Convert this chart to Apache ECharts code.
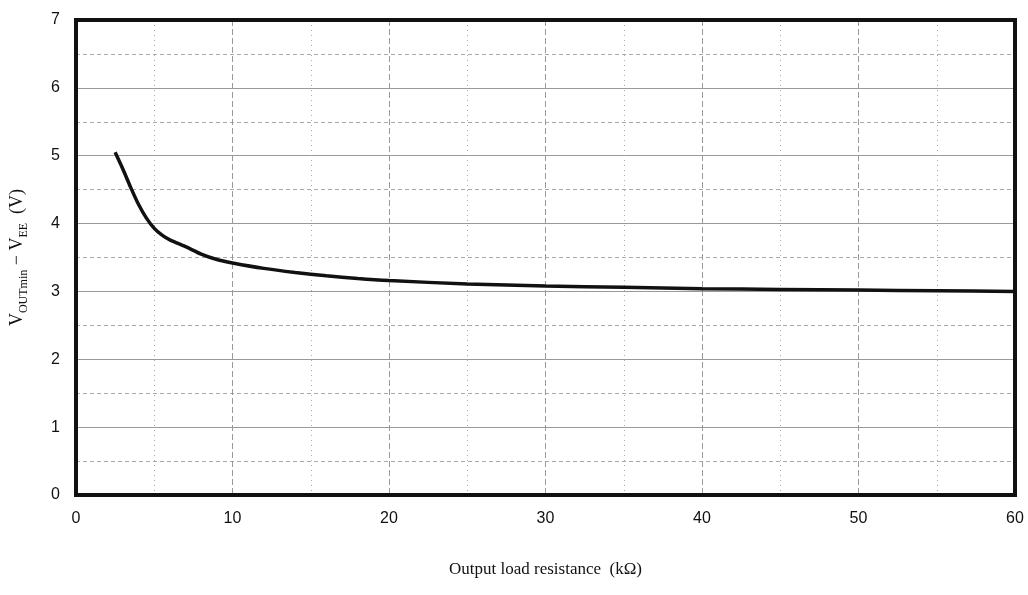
<!DOCTYPE html>
<html><head><meta charset="utf-8">
<script src="https://cdn.jsdelivr.net/npm/echarts@6/dist/echarts.min.js"></script>
<style>html,body{margin:0;padding:0;background:#fff}#c{width:1028px;height:595px}</style>
</head><body><div id="c"></div>
<script>
const resistance = [2.5,3,3.5,4,4.5,5,5.5,6,7,8,9,10,12,14,16,18,20,25,30,35,40,45,50,55,60];
const voltage = [5.05,4.80,4.53,4.28,4.08,3.93,3.83,3.76,3.66,3.55,3.47,3.42,3.34,3.28,3.23,3.19,3.16,3.11,3.08,3.06,3.04,3.03,3.02,3.01,3.00];
const xTicks = [0,10,20,30,40,50,60];
const yTicks = [0,1,2,3,4,5,6,7];

const chart = echarts.init(document.getElementById('c'));
chart.setOption({
  animation:false,
  grid:{left:75,right:13,top:20,bottom:100,show:true,borderColor:'#111',borderWidth:4,z:5},
  xAxis:{type:'value',min:0,max:60,interval:10,
    axisLine:{show:true,lineStyle:{color:'#111',width:4}},
    axisTick:{show:false},
    axisLabel:{margin:16,fontFamily:'Liberation Sans',fontSize:16,color:'#111',formatter:v=>xTicks.includes(v)?String(v):''},
    splitLine:{show:true,showMinLine:false,showMaxLine:false,lineStyle:{color:'#999',width:1,type:[6,3]}},
    minorTick:{show:false,splitNumber:2},
    minorSplitLine:{show:true,lineStyle:{color:'#aaa',width:1,type:[1,4]}},
    name:'Output load resistance  (kΩ)',nameLocation:'middle',nameGap:66,
    nameTextStyle:{fontFamily:'Liberation Serif',fontSize:17,color:'#111'}
  },
  yAxis:{type:'value',min:0,max:7,interval:1,
    axisLine:{show:true,lineStyle:{color:'#111',width:4}},
    axisTick:{show:false},
    axisLabel:{margin:16,fontFamily:'Liberation Sans',fontSize:16,color:'#111',formatter:v=>yTicks.includes(v)?String(v):''},
    splitLine:{show:true,showMinLine:false,showMaxLine:false,lineStyle:{color:'#999',width:1}},
    minorTick:{show:false,splitNumber:2},
    minorSplitLine:{show:true,lineStyle:{color:'#aaa',width:1,type:[4,3]}},
    name:'{v|V}{s|OUTmin}{v| − V}{s|EE}{v|  (V)}',nameLocation:'middle',nameGap:50,nameRotate:90,
    nameTextStyle:{fontFamily:'Liberation Serif',color:'#111',
      rich:{v:{fontFamily:'Liberation Serif',fontSize:18,color:'#111',verticalAlign:'bottom',lineHeight:22},
            s:{fontFamily:'Liberation Serif',fontSize:12,color:'#111',verticalAlign:'bottom',lineHeight:22,padding:[0,0,-4,0]}}}
  },
  series:[{type:'line',data:resistance.map((x,i)=>[x,voltage[i]]),smooth:0.25,showSymbol:false,
    lineStyle:{color:'#111',width:3.5}}]
});
</script></body></html>
